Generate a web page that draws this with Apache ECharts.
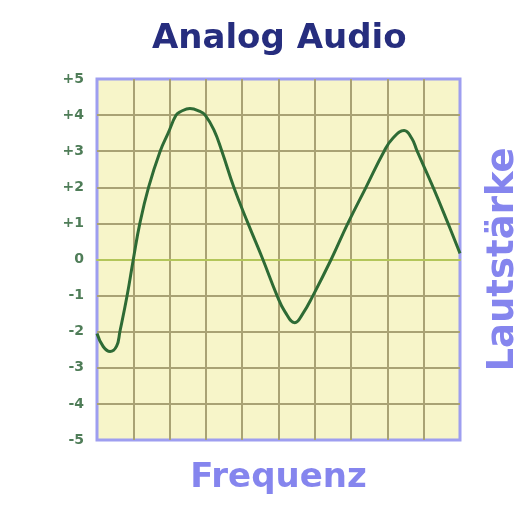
<!DOCTYPE html>
<html lang="de">
<head>
    <meta charset="UTF-8">
    <title>Analog Audio</title>
    <style>
        body { margin: 0; background: #ffffff; }
    </style>
</head>
<body>
<div id="main" style="width: 530px;height:506px;"></div>
<script src="https://cdn.jsdelivr.net/npm/echarts@6/dist/echarts.min.js"></script>
<script type="text/javascript">
    // Kurvenpunkte (x: 0..10 Kästchen, y: Lautstärke)
    var freqX = [0, 0.17, 0.36, 0.54, 0.63, 0.83, 1.0, 1.18, 1.42, 1.74, 1.96, 2.18, 2.31, 2.56, 2.84, 2.98, 3.22,
        3.44, 3.77, 4.16, 4.57, 4.96, 5.18, 5.45, 5.67, 5.95, 6.45, 6.91, 7.41, 7.91, 8.15, 8.46, 8.67, 8.82,
        9.26, 9.67, 10];
    var level = [-2.05, -2.41, -2.55, -2.4, -2, -1, 0, 1, 2, 3, 3.5, 4, 4.1, 4.18, 4.1, 4, 3.59,
        3, 2, 1, 0, -1, -1.45, -1.75, -1.5, -1, 0, 1, 2, 3, 3.36, 3.57, 3.36, 3,
        2, 1, 0.17];
    var yTicks = ['-5', '-4', '-3', '-2', '-1', '0', '+1', '+2', '+3', '+4', '+5'];

    var points = [];
    for (var i = 0; i < freqX.length; i++) {
        points.push([freqX[i], level[i]]);
    }

    var myChart = echarts.init(document.getElementById('main'));
    myChart.setOption({
        animation: false,
        title: {
            text: 'Analog Audio',
            left: 147,
            top: 17,
            textStyle: {
                fontFamily: 'DejaVu Sans',
                fontWeight: 'bold',
                fontSize: 34,
                color: '#262d7e'
            }
        },
        grid: {
            left: 97,
            right: 70,
            top: 79,
            bottom: 66,
            show: true,
            backgroundColor: '#f7f5c9',
            borderColor: '#9e9ef0',
            borderWidth: 3
        },
        xAxis: {
            type: 'value',
            min: 0,
            max: 10,
            interval: 1,
            name: 'Frequenz',
            nameLocation: 'middle',
            nameGap: 21,
            nameTextStyle: {
                fontFamily: 'DejaVu Sans',
                fontWeight: 'bold',
                fontSize: 34,
                color: '#8585ee'
            },
            axisLine: { onZero: true, lineStyle: { color: '#b3c65a', width: 2 } },
            axisTick: { show: false },
            axisLabel: { show: false },
            splitLine: { showMinLine: false, showMaxLine: false, lineStyle: { color: '#a9a274', width: 2 } }
        },
        yAxis: [{
            type: 'value',
            min: -5,
            max: 5,
            interval: 1,
            axisLine: { show: false },
            axisTick: { show: false },
            axisLabel: {
                margin: 13,
                fontFamily: 'DejaVu Sans',
                fontWeight: 'bold',
                fontSize: 14,
                color: '#4f7d58',
                formatter: function (v) {
                    return yTicks[v + 5];
                }
            },
            splitLine: { showMinLine: false, showMaxLine: false, lineStyle: { color: '#a9a274', width: 2 } }
        }, {
            type: 'value',
            position: 'right',
            min: -5,
            max: 5,
            name: 'Lautstärke',
            nameLocation: 'middle',
            nameRotate: 90,
            nameGap: 25,
            nameTextStyle: {
                fontFamily: 'DejaVu Sans',
                fontWeight: 'bold',
                fontSize: 37,
                color: '#8585ee'
            },
            axisLine: { show: false },
            axisTick: { show: false },
            axisLabel: { show: false },
            splitLine: { show: false }
        }],
        series: [{
            type: 'line',
            data: points,
            smooth: 0.45,
            symbol: 'none',
            lineStyle: { color: '#2e6b35', width: 3 }
        }]
    });
</script>
</body>
</html>
